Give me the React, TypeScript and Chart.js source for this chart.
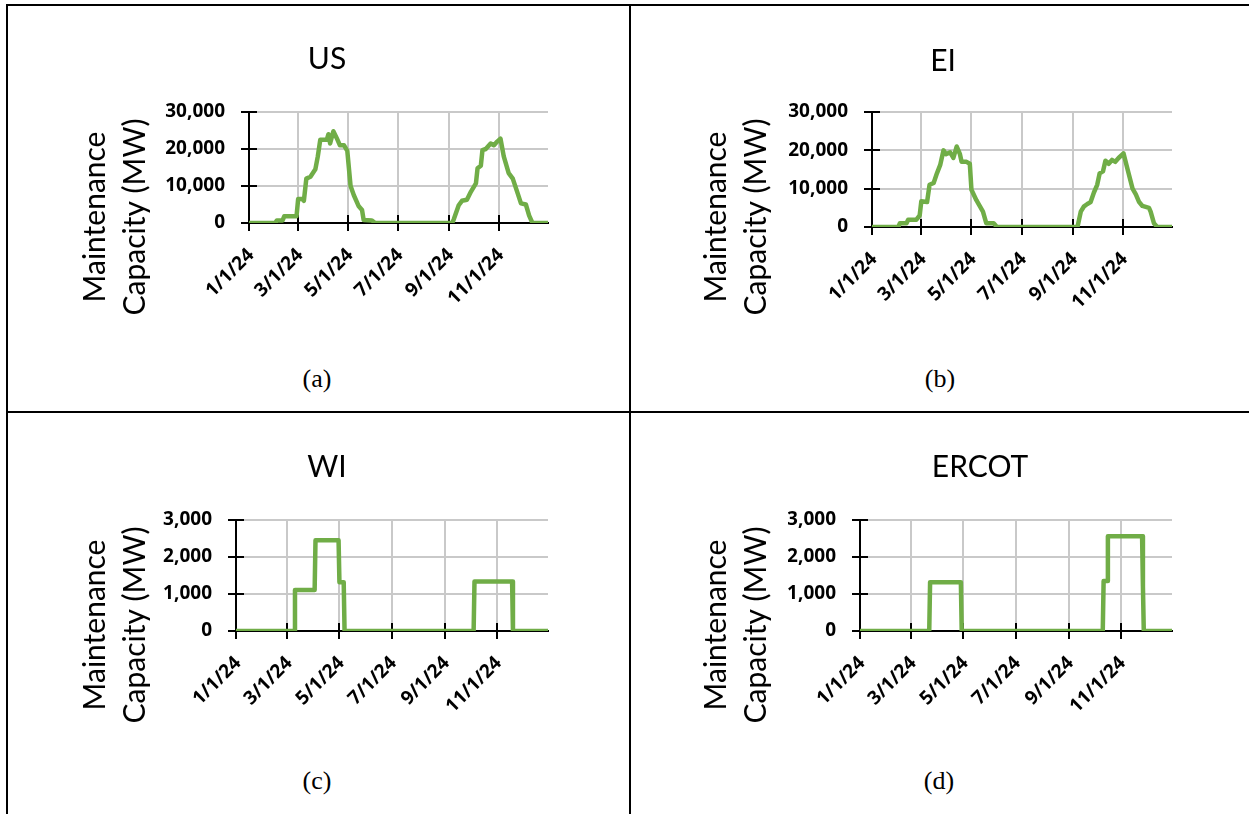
import { useEffect, useRef } from 'react';
import { Chart, registerables } from 'chart.js';

Chart.register(...registerables);

// Days counted from 1/1/24 (day 0) and scheduled maintenance capacity in MW.
const usDays = [0, 32, 34, 41, 43, 58, 60, 65, 67, 70, 75, 81, 84, 87, 95, 97, 99, 103, 107, 111, 116, 120, 124, 128, 134, 138, 140, 150, 154, 248, 250, 256, 260, 266, 271, 277, 279, 283, 285, 289, 295, 299, 303, 307, 311, 317, 322, 328, 332, 338, 342, 346, 365];
const usMW = [0, 0, 700, 700, 1800, 1800, 6500, 6500, 6000, 12000, 12500, 14500, 18000, 22500, 22500, 24000, 21500, 24800, 23000, 21000, 21000, 19500, 10000, 7500, 4500, 3500, 800, 700, 0, 0, 1000, 4800, 6000, 6300, 8500, 10700, 14800, 15500, 19700, 20000, 21500, 21000, 22000, 22800, 18000, 13500, 12000, 8000, 5300, 5000, 2000, 0, 0];

const eiDays = [0, 32, 34, 42, 44, 54, 58, 60, 67, 70, 75, 79, 83, 87, 90, 95, 99, 103, 107, 109, 115, 119, 121, 127, 131, 135, 139, 148, 152, 250, 254, 258, 262, 266, 270, 274, 277, 281, 284, 288, 292, 296, 300, 306, 311, 317, 321, 325, 329, 337, 339, 343, 347, 365];
const eiMW = [0, 0, 1000, 1000, 1900, 1900, 3000, 6700, 6500, 11000, 11500, 14000, 16200, 20000, 19000, 19500, 18000, 21000, 19000, 17000, 17000, 16500, 9700, 7000, 5500, 4000, 1000, 1000, 0, 0, 4000, 5400, 6000, 6500, 9000, 11000, 14000, 14500, 17300, 16500, 17500, 17000, 18000, 19200, 15000, 10000, 8500, 6500, 5500, 5000, 4000, 1000, 0, 0];

const wiDays = [0, 68, 69, 92, 93, 120, 121, 126, 127, 278, 279, 323, 324, 365];
const wiMW = [0, 0, 1110, 1110, 2450, 2450, 1320, 1320, 0, 0, 1340, 1340, 0, 0];

const ercotDays = [0, 81, 82, 118, 119, 284, 285, 289, 290, 330, 331, 332, 365];
const ercotMW = [0, 0, 1320, 1320, 0, 0, 1350, 1350, 2560, 2560, 1200, 0, 0];

// Date axis: major ticks every two months
const tickDays = [0, 60, 121, 182, 244, 305];
const tickLabels = ['1/1/24', '3/1/24', '5/1/24', '7/1/24', '9/1/24', '11/1/24'];
const lastDay = 365;

const yTitleLines = ['Maintenance', 'Capacity (MW)'];

const GREEN = '#70AD47';
const FONT = 'Lato, "Open Sans", sans-serif';
const TICK_FAMILY = '"Noto Sans", "Open Sans", sans-serif';

type Panel = {
  title: string;
  caption: string;
  days: number[];
  mw: number[];
  yMax: number;
  yStep: number;
  plot: { l: number; r: number; t: number; b: number };
  titleX: number;
  titleY: number;
  yTitleBase: number;
  yTitleY: number;
  captionX: number;
  captionY: number;
};

const panels: Panel[] = [
  {
    title: 'US', caption: '(a)', days: usDays, mw: usMW, yMax: 30000, yStep: 10000,
    plot: { l: 249, r: 548, t: 112, b: 223 }, titleX: 327, titleY: 59,
    yTitleBase: 105, yTitleY: 217, captionX: 317, captionY: 381,
  },
  {
    title: 'EI', caption: '(b)', days: eiDays, mw: eiMW, yMax: 30000, yStep: 10000,
    plot: { l: 872, r: 1172, t: 112, b: 227 }, titleX: 943, titleY: 61,
    yTitleBase: 726, yTitleY: 217, captionX: 940, captionY: 381,
  },
  {
    title: 'WI', caption: '(c)', days: wiDays, mw: wiMW, yMax: 3000, yStep: 1000,
    plot: { l: 236, r: 548, t: 520, b: 631 }, titleX: 327, titleY: 467,
    yTitleBase: 105, yTitleY: 625, captionX: 317, captionY: 783,
  },
  {
    title: 'ERCOT', caption: '(d)', days: ercotDays, mw: ercotMW, yMax: 3000, yStep: 1000,
    plot: { l: 860, r: 1172, t: 520, b: 631 }, titleX: 980, titleY: 467,
    yTitleBase: 726, yTitleY: 625, captionX: 939, captionY: 783,
  },
];

const TITLE_SIZE = 30;
const TITLE_LH = TITLE_SIZE * 1.2;
const TICK_FONT = { family: TICK_FAMILY, size: 19, weight: 'bold' };

function frameFor(p: Panel) {
  const left = p.plot.l - 190;
  const top = p.titleY - 40;
  const right = p.plot.r + 20;
  const bottom = p.plot.b + 130;
  return { left, top, width: right - left, height: bottom - top };
}

// Cross tick marks on both axes and the two-line rotated value-axis title
const axisDecor = {
  id: 'axisDecor',
  beforeDatasetsDraw(chart: any) {
    const { ctx, chartArea } = chart;
    const xs = chart.scales.x;
    const ys = chart.scales.y;
    ctx.save();
    ctx.strokeStyle = '#000';
    ctx.lineWidth = 2;
    ctx.beginPath();
    xs.ticks.forEach((t: any) => {
      const px = Math.round(xs.getPixelForValue(t.value));
      ctx.moveTo(px, chartArea.bottom - 8);
      ctx.lineTo(px, chartArea.bottom + 8);
    });
    ys.ticks.forEach((t: any) => {
      const py = Math.round(ys.getPixelForValue(t.value));
      ctx.moveTo(chartArea.left - 8, py);
      ctx.lineTo(chartArea.left + 8, py);
    });
    ctx.stroke();
    ctx.restore();
  },
  afterDraw(chart: any, _args: any, opts: any) {
    const { ctx } = chart;
    ctx.save();
    ctx.fillStyle = '#000';
    ctx.font = `30px ${FONT}`;
    ctx.textAlign = 'center';
    ctx.textBaseline = 'alphabetic';
    opts.lines.forEach((line: string, i: number) => {
      ctx.save();
      ctx.translate(opts.baseX + i * 40, opts.centerY);
      ctx.rotate(-Math.PI / 2);
      ctx.fillText(line, 0, 0);
      ctx.restore();
    });
    ctx.restore();
  },
};

function MaintenanceChart({ p }: { p: Panel }) {
  const ref = useRef<HTMLCanvasElement>(null);
  const f = frameFor(p);

  useEffect(() => {
    if (!ref.current) return;
    const padLeft = 2 * (p.titleX - f.left) - (p.plot.r - f.left);
    const yWidth = p.plot.l - f.left - padLeft;
    const padRight = f.left + f.width - p.plot.r;
    const titleTop = p.titleY - f.top - TITLE_LH / 2;
    const titleBottom = p.plot.t - f.top - titleTop - TITLE_LH;
    const xHeight = f.top + f.height - p.plot.b;

    const chart = new Chart(ref.current, {
      type: 'line',
      data: {
        datasets: [
          {
            data: p.days.map((d, i) => ({ x: d, y: p.mw[i] })),
            borderColor: GREEN,
            borderWidth: 4.5,
            pointRadius: 0,
            tension: 0,
            borderJoinStyle: 'round',
            borderCapStyle: 'round',
          },
        ],
      },
      options: {
        animation: false,
        responsive: false,
        devicePixelRatio: 1,
        events: [],
        layout: { padding: { left: padLeft, right: padRight, top: 0, bottom: 0 } },
        plugins: {
          legend: { display: false },
          tooltip: { enabled: false },
          title: {
            display: true,
            text: p.title,
            color: '#000',
            font: { family: FONT, size: TITLE_SIZE, weight: 'normal', lineHeight: 1.2 },
            padding: { top: titleTop, bottom: titleBottom },
          },
          axisDecor: { lines: yTitleLines, baseX: p.yTitleBase - f.left, centerY: p.yTitleY - f.top },
        } as any,
        scales: {
          x: {
            type: 'linear',
            min: 0,
            max: lastDay,
            afterBuildTicks: (s: any) => {
              s.ticks = tickDays.map((v) => ({ value: v }));
            },
            afterFit: (s: any) => {
              s.height = xHeight;
            },
            grid: { color: '#c9c9c9', lineWidth: 2, drawTicks: false },
            border: { display: true, color: '#000', width: 2 },
            ticks: {
              autoSkip: false,
              minRotation: 45,
              maxRotation: 45,
              padding: 21,
              labelOffset: 2,
              color: '#000',
              font: TICK_FONT,
              callback: (v: any) => tickLabels[tickDays.indexOf(Number(v))] ?? '',
            },
          },
          y: {
            type: 'linear',
            min: 0,
            max: p.yMax,
            afterFit: (s: any) => {
              s.width = yWidth;
            },
            grid: { color: '#c9c9c9', lineWidth: 2, drawTicks: false },
            border: { display: true, color: '#000', width: 2 },
            ticks: {
              stepSize: p.yStep,
              padding: 24,
              color: '#000',
              font: TICK_FONT,
              callback: (v: any) => Number(v).toLocaleString('en-US'),
            },
          },
        },
      } as any,
      plugins: [axisDecor],
    });
    return () => chart.destroy();
  }, []);

  return (
    <canvas
      ref={ref}
      width={f.width}
      height={f.height}
      style={{ position: 'absolute', left: f.left, top: f.top, width: f.width, height: f.height }}
    />
  );
}

const line = (l: number, t: number, w: number, h: number) => (
  <div style={{ position: 'absolute', left: l, top: t, width: w, height: h, background: '#000' }} />
);

export default function App() {
  return (
    <div
      style={{
        position: 'absolute',
        left: 0,
        top: 0,
        width: 1249,
        height: 814,
        overflow: 'hidden',
        background: '#fff',
      }}
    >
      {line(6, 4, 1243, 2)}
      {line(6, 4, 2, 810)}
      {line(629, 4, 2, 810)}
      {line(6, 411, 1243, 2)}
      {panels.map((p) => (
        <MaintenanceChart key={p.title} p={p} />
      ))}
      {panels.map((p) => (
        <div
          key={p.caption}
          style={{
            position: 'absolute',
            left: p.captionX - 50,
            top: p.captionY - 15,
            width: 100,
            textAlign: 'center',
            fontFamily: '"Liberation Serif", "Times New Roman", serif',
            fontSize: 26,
            lineHeight: '26px',
            color: '#000',
          }}
        >
          {p.caption}
        </div>
      ))}
    </div>
  );
}
